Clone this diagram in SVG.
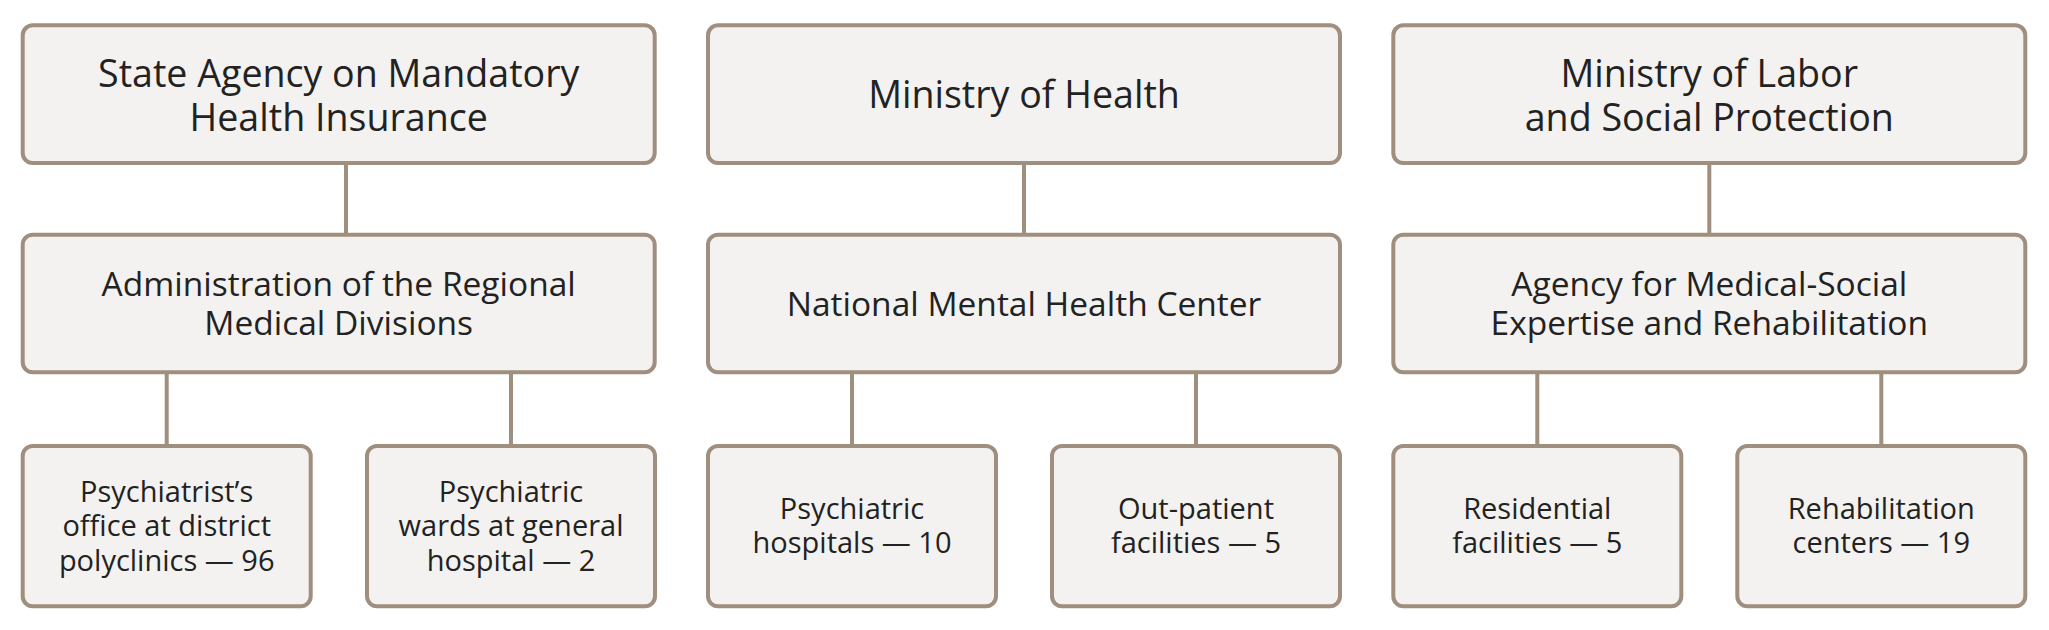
<svg xmlns="http://www.w3.org/2000/svg" width="2049" height="630" viewBox="0 0 2049 630">
<style>
.box{fill:#f3f2f0;stroke:#a08e7e;stroke-width:4}
.ln{stroke:#a08e7e;stroke-width:4;fill:none}
text{font-family:"Open Sans","Noto Sans","Liberation Sans",sans-serif;fill:#222;text-anchor:middle}
.t1{font-size:37.6px}
.t2{font-size:33.5px}
.t3{font-size:29px}
</style>
<rect width="2049" height="630" fill="#fff"/>
<g id="connectors">
<line class="ln" x1="346" y1="163" x2="346" y2="234.7"/>
<line class="ln" x1="1024" y1="163" x2="1024" y2="234.7"/>
<line class="ln" x1="1709.3" y1="163" x2="1709.3" y2="234.7"/>
<line class="ln" x1="166.7" y1="372.3" x2="166.7" y2="446"/>
<line class="ln" x1="511" y1="372.3" x2="511" y2="446"/>
<line class="ln" x1="852" y1="372.3" x2="852" y2="446"/>
<line class="ln" x1="1196" y1="372.3" x2="1196" y2="446"/>
<line class="ln" x1="1537.3" y1="372.3" x2="1537.3" y2="446"/>
<line class="ln" x1="1881.3" y1="372.3" x2="1881.3" y2="446"/>
</g>
<g id="state-agency">
<rect class="box" x="22.7" y="25.3" width="632" height="137.7" rx="10"/>
<text class="t1" x="338.7" y="86.5">State Agency on Mandatory</text>
<text class="t1" x="338.7" y="130.5">Health Insurance</text>
</g>
<g id="ministry-health">
<rect class="box" x="708" y="25.3" width="632" height="137.7" rx="10"/>
<text class="t1" x="1024" y="108.3">Ministry of Health</text>
</g>
<g id="ministry-labor">
<rect class="box" x="1393.3" y="25.3" width="632" height="137.7" rx="10"/>
<text class="t1" x="1709.3" y="86.5">Ministry of Labor</text>
<text class="t1" x="1709.3" y="130.5">and Social Protection</text>
</g>
<g id="admin-regional">
<rect class="box" x="22.7" y="234.7" width="632" height="137.6" rx="10"/>
<text class="t2" x="338.7" y="296">Administration of the Regional</text>
<text class="t2" x="338.7" y="335">Medical Divisions</text>
</g>
<g id="national-center">
<rect class="box" x="708" y="234.7" width="632" height="137.6" rx="10"/>
<text class="t2" x="1024" y="316">National Mental Health Center</text>
</g>
<g id="agency-expertise">
<rect class="box" x="1393.3" y="234.7" width="632" height="137.6" rx="10"/>
<text class="t2" x="1709.3" y="296">Agency for Medical-Social</text>
<text class="t2" x="1709.3" y="335">Expertise and Rehabilitation</text>
</g>
<g id="psychiatrist-office">
<rect class="box" x="22.7" y="446" width="288" height="160.3" rx="10"/>
<text class="t3" x="166.7" y="501.7">Psychiatrist’s</text>
<text class="t3" x="166.7" y="536.3">office at district</text>
<text class="t3" x="166.7" y="571">polyclinics — 96</text>
</g>
<g id="psychiatric-wards">
<rect class="box" x="367" y="446" width="288" height="160.3" rx="10"/>
<text class="t3" x="511" y="501.7">Psychiatric</text>
<text class="t3" x="511" y="536.3">wards at general</text>
<text class="t3" x="511" y="571">hospital — 2</text>
</g>
<g id="psychiatric-hospitals">
<rect class="box" x="708" y="446" width="288" height="160.3" rx="10"/>
<text class="t3" x="852" y="519.3">Psychiatric</text>
<text class="t3" x="852" y="553.3">hospitals — 10</text>
</g>
<g id="outpatient">
<rect class="box" x="1052" y="446" width="288" height="160.3" rx="10"/>
<text class="t3" x="1196" y="519.3">Out-patient</text>
<text class="t3" x="1196" y="553.3">facilities — 5</text>
</g>
<g id="residential">
<rect class="box" x="1393.3" y="446" width="288" height="160.3" rx="10"/>
<text class="t3" x="1537.3" y="519.3">Residential</text>
<text class="t3" x="1537.3" y="553.3">facilities — 5</text>
</g>
<g id="rehab-centers">
<rect class="box" x="1737.3" y="446" width="288" height="160.3" rx="10"/>
<text class="t3" x="1881.3" y="519.3">Rehabilitation</text>
<text class="t3" x="1881.3" y="553.3">centers — 19</text>
</g>
</svg>
